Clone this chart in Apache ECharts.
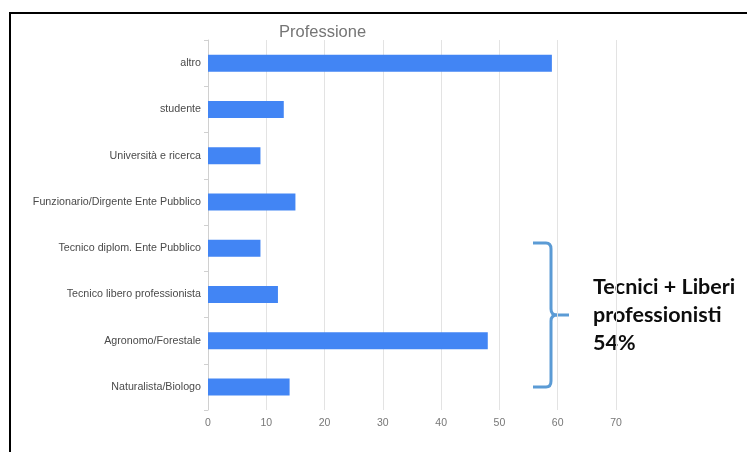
<!DOCTYPE html>
<html>
<head>
<meta charset="utf-8">
<script src="https://cdn.jsdelivr.net/npm/echarts@6/dist/echarts.min.js"></script>
<style>html,body{margin:0;padding:0;background:#fff}#c{width:747px;height:452px}</style>
</head>
<body>
<div id="c"></div>
<script>
var categories = ["altro","studente","Università e ricerca","Funzionario/Dirgente Ente Pubblico","Tecnico diplom. Ente Pubblico","Tecnico libero professionista","Agronomo/Forestale","Naturalista/Biologo"];
var values = [59, 13, 9, 15, 9, 12, 48, 14];
var xTicks = {min: 0, max: 70, interval: 10};
var titleText = "Professione";
var noteLines = ["Tecnici + Liberi", "professionisti", "54%"];

var braceStyle = {stroke: '#5b9bd5', lineWidth: 3, fill: 'none'};
function ln(x1, y1, x2, y2) {
  return {type: 'line', silent: true, shape: {x1: x1, y1: y1, x2: x2, y2: y2}, style: braceStyle};
}
function qc(x1, y1, cx, cy, x2, y2) {
  return {type: 'bezierCurve', silent: true, shape: {x1: x1, y1: y1, cpx1: cx, cpy1: cy, x2: x2, y2: y2}, style: braceStyle};
}

var chart = echarts.init(document.getElementById('c'), null, {renderer: 'canvas'});
chart.setOption({
  animation: false,
  backgroundColor: '#fff',
  textStyle: {fontFamily: 'Liberation Sans, Arial, sans-serif'},
  title: {
    text: titleText, left: 279, top: 24, padding: 0,
    textStyle: {fontSize: 16.5, fontWeight: 'normal', color: '#757575', fontFamily: 'Liberation Sans, Arial, sans-serif'}
  },
  grid: {left: 208, right: 131, top: 40, bottom: 42, containLabel: false},
  xAxis: {
    type: 'value', min: xTicks.min, max: xTicks.max, interval: xTicks.interval,
    axisLine: {show: false}, axisTick: {show: false},
    splitLine: {lineStyle: {color: '#e3e3e3', width: 1}},
    axisLabel: {fontSize: 10.5, color: '#777', margin: 8}
  },
  yAxis: {
    type: 'category', data: categories, inverse: true,
    axisLine: {show: true, lineStyle: {color: '#d0d0d0'}},
    axisTick: {show: true, length: 4, lineStyle: {color: '#d0d0d0'}},
    axisLabel: {fontSize: 10.7, color: '#4a4a4a', margin: 7}
  },
  series: [{
    type: 'bar', data: values, barWidth: 17,
    itemStyle: {color: '#4285f4'}
  }],
  graphic: [
    {type: 'rect', silent: true, shape: {x: 10, y: 13, width: 760, height: 460}, style: {fill: 'none', stroke: '#000', lineWidth: 2}},
    ln(533, 243, 546, 243),
    qc(546, 243, 551, 243, 551, 249),
    ln(551, 249, 551, 309),
    qc(551, 309, 551, 315, 557, 315),
    ln(557, 315, 569, 315),
    qc(557, 315, 551, 315, 551, 321),
    ln(551, 321, 551, 381),
    qc(551, 381, 551, 387, 546, 387),
    ln(546, 387, 533, 387),
    {type: 'text', silent: true, left: 593, top: 273, style: {text: noteLines.join('\n'), fontSize: 21.5, fontWeight: 'bold', lineHeight: 28, fill: '#0d0d0d', fontFamily: 'Lato, Open Sans, sans-serif'}}
  ]
});
</script>
</body>
</html>
